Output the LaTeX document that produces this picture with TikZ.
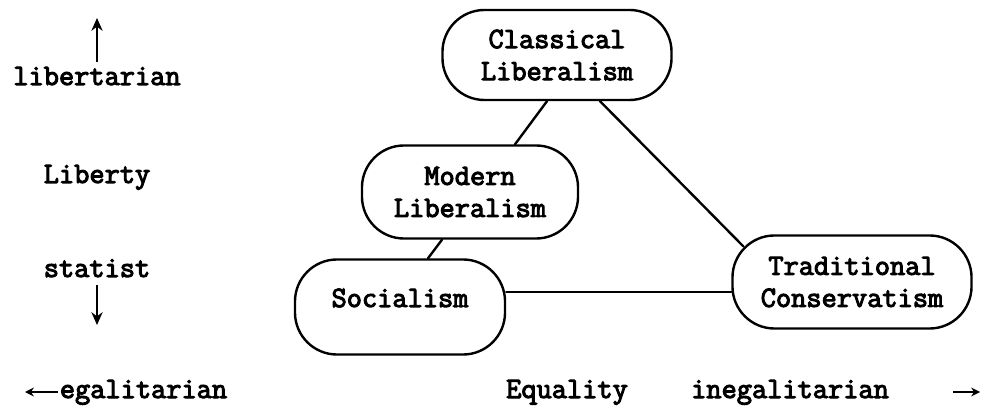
\documentclass[tikz,border=0pt]{standalone}
\usepackage{fontspec}
\newfontfamily\typewriter{Latin Modern Mono}[FakeBold=3.5]
\usetikzlibrary{arrows.meta}
\newcommand{\typeface}{\typewriter\fontsize{21}{22.8}\selectfont}
\tikzset{
  ideabox/.style={rectangle, rounded corners=1.05cm, draw=black, line width=1.7pt,
                  align=center, inner sep=0pt, font=\typeface},
  axislabel/.style={anchor=base, inner sep=0pt, font=\typeface},
  link/.style={line width=1.7pt, black, line cap=round},
  axisarrow/.style={-{Stealth[length=3.2mm, width=2.8mm]}, line width=1.3pt},
  axisarrowsmall/.style={-{Stealth[length=2.2mm, width=2.2mm]}, line width=1.2pt},
}

\begin{document}
\begin{tikzpicture}[x=0.025cm, y=-0.025cm]
  \useasboundingbox (0,0) rectangle (983,411);
  % ideologies
  \node[ideabox, minimum width=5.725cm, minimum height=2.25cm]  (classical) at (557,55)  {Classical\\Liberalism};
  \node[ideabox, minimum width=5.4cm,   minimum height=2.325cm] (modern)    at (470,192) {Modern\\Liberalism};
  \node[ideabox, minimum width=5.25cm,  minimum height=2.375cm,
        text height=0.4cm, text depth=0.4cm]                     (socialism) at (400,307) {Socialism};
  \node[ideabox, minimum width=5.975cm, minimum height=2.325cm] (tradcons)  at (852,282) {Traditional\\Conservatism};
  \draw[link] ([xshift=-0.25cm]classical.south) -- ([xshift=1.125cm]modern.north);
  \draw[link] ([xshift=1.075cm]classical.south) -- ([xshift=0.3cm, yshift=-0.3cm]tradcons.north west);
  \draw[link] ([xshift=-0.7cm]modern.south) -- ([xshift=0.7cm]socialism.north);
  \draw[link] ([yshift=0.375cm]socialism.east) -- ([yshift=0.375cm]socialism.east -| tradcons.west);
  % liberty axis
  \node[axislabel] (libertarian) at (97,85)  {libertarian};
  \node[axislabel] (liberty)     at (97,183) {Liberty};
  \node[axislabel] (statist)     at (97,277) {statist};
  \coordinate (uptail) at (97,62);
  \coordinate (uptip) at (97,18);
  \coordinate (downtail) at (97,285);
  \coordinate (downtip) at (97,325);
  \draw[axisarrow] (uptail) -- (uptip);
  \draw[axisarrow] (downtail) -- (downtip);
  % equality axis
  \node[axislabel] (egalitarian)   at (143.5,398) {egalitarian};
  \node[axislabel] (equality)      at (567,398)   {Equality};
  \node[axislabel] (inegalitarian) at (790,398)   {inegalitarian};
  \coordinate (lefttail) at (58,392);
  \coordinate (lefttip) at (25,392);
  \coordinate (righttail) at (953,392);
  \coordinate (righttip) at (980,392);
  \draw[axisarrowsmall] (lefttail) -- (lefttip);
  \draw[axisarrowsmall] (righttail) -- (righttip);
\end{tikzpicture}
\end{document}
